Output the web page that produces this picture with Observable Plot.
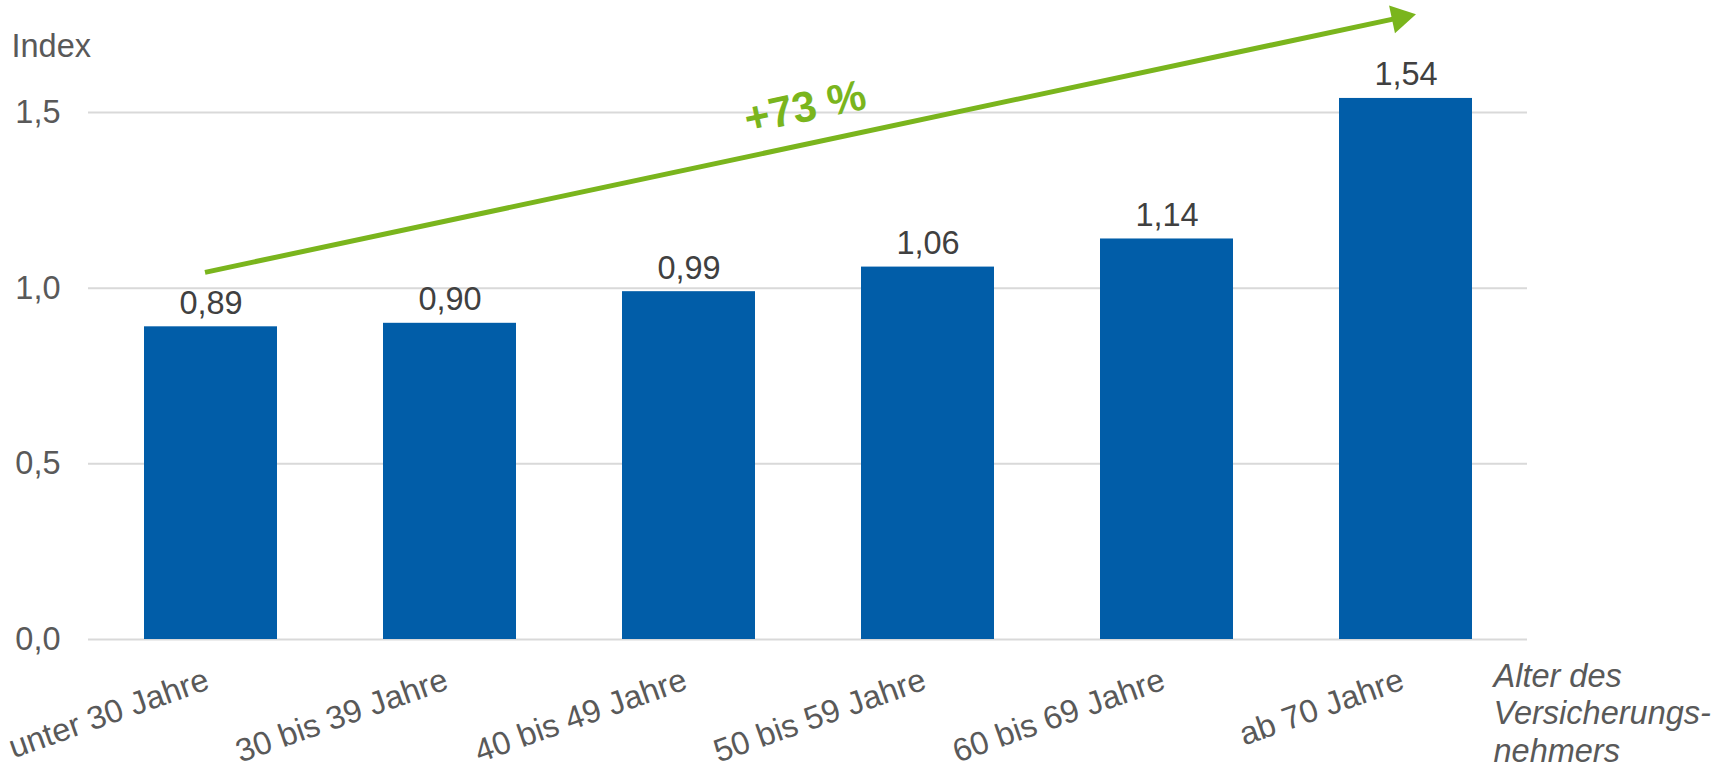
<!DOCTYPE html>
<html>
<head>
<meta charset="utf-8">
<script src="https://cdn.jsdelivr.net/npm/d3@7"></script>
<script src="https://cdn.jsdelivr.net/npm/@observablehq/plot@0.6"></script>
<style>
  html, body { margin: 0; padding: 0; background: #fff; }
  #chart svg { overflow: visible; }
</style>
</head>
<body>
<div id="chart"></div>
<script>
// ---- data ----
const categories = ["unter 30 Jahre", "30 bis 39 Jahre", "40 bis 49 Jahre", "50 bis 59 Jahre", "60 bis 69 Jahre", "ab 70 Jahre"];
const values = [0.89, 0.90, 0.99, 1.06, 1.14, 1.54];
const yTicks = [0, 0.5, 1.0, 1.5];
const yLabel = "Index";
const xLabel = "Alter des\nVersicherungs-\nnehmers";
const trendLabel = "+73 %";
const trendStart = {x: "unter 30 Jahre", y: 1.045};
const trendEnd = {x: "ab 70 Jahre", y: 1.770};

const rows = categories.map((c, i) => ({cat: c, value: values[i]}));
const comma = (d, n) => d.toFixed(n).replace(".", ",");

const BLUE = "#015DA8";
const GREEN = "#7AB51D";
const GRAY = "#595959";
const FONT = 32.5;

const chart = Plot.plot({
  width: 1723,
  height: 766,
  marginLeft: 88,
  marginRight: 196,
  marginTop: 112,
  marginBottom: 127,
  style: {fontFamily: "'Liberation Sans', Arial, sans-serif", fontSize: FONT + "px", color: GRAY, background: "#fff"},
  x: {type: "band", domain: categories, paddingInner: 0.445, paddingOuter: 0.2225, axis: null},
  y: {domain: [0, 1.5], axis: null},
  marks: [
    Plot.gridY(yTicks, {stroke: "#d9d9d9", strokeOpacity: 1, strokeWidth: 2}),
    Plot.axisY(yTicks, {tickSize: 0, tickPadding: 28, fontSize: FONT, fill: GRAY, tickFormat: d => comma(d, 1), label: null}),
    Plot.barY(rows, {x: "cat", y: "value", fill: BLUE}),
    Plot.text(rows, {x: "cat", y: "value", text: d => comma(d.value, 2), dy: -13, lineAnchor: "bottom", fill: "#404040", fontSize: FONT}),
    Plot.text(categories, {x: d => d, y: () => 0, text: d => d, dy: 49, textAnchor: "end", lineAnchor: "bottom", rotate: -19.5, fill: GRAY, fontSize: FONT}),
    Plot.text([yLabel], {frameAnchor: "top-left", dx: -77, dy: -56, textAnchor: "start", lineAnchor: "bottom", fill: GRAY, fontSize: FONT}),
    Plot.text([xLabel], {frameAnchor: "bottom-right", dx: -34, dy: 21, textAnchor: "start", lineAnchor: "top", lineHeight: 1.15, fontStyle: "italic", fill: GRAY, fontSize: FONT}),
    Plot.link([{x1: trendStart.x, y1: trendStart.y, x2: trendEnd.x, y2: trendEnd.y}], {x1: "x1", y1: "y1", x2: "x2", y2: "y2", dx: -6, stroke: GREEN, strokeWidth: 5}),
    Plot.dot([trendEnd], {x: "x", y: "y", dx: -6, symbol: "triangle", r: 10.5, fill: GREEN, stroke: "none", rotate: 78}),
    Plot.text([trendLabel], {x: () => "40 bis 49 Jahre", y: () => 1.514, dx: 116, text: d => d, fontWeight: "bold", fontSize: 43, fill: GREEN, rotate: -12, textAnchor: "middle", lineAnchor: "middle"})
  ]
});
document.getElementById("chart").appendChild(chart);
</script>
</body>
</html>
